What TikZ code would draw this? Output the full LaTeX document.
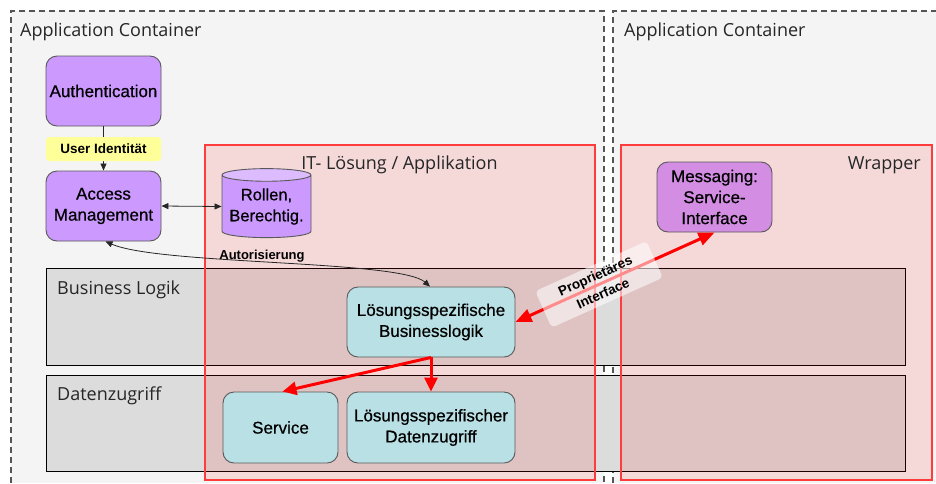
\documentclass[tikz,border=0pt]{standalone}
\usepackage{fontspec}
\setmainfont{Liberation Sans}
\newfontfamily\titlefont{Open Sans}
\newfontface\compfont{Liberation Sans}[FakeBold=0.6]
\usetikzlibrary{arrows.meta,shapes.geometric}

\definecolor{contbg}{HTML}{F4F4F4}
\definecolor{contline}{HTML}{555555}
\definecolor{lanefill}{HTML}{DCDCDC}
\definecolor{purplebox}{HTML}{CC99FF}
\definecolor{purpletop}{HTML}{DDBBFF}
\definecolor{msgbox}{HTML}{D38DE3}
\definecolor{tealbox}{HTML}{B9E0E4}
\definecolor{labelyellow}{HTML}{FFFF99}
\definecolor{zonered}{HTML}{FF3C3C}
\definecolor{titlegray}{HTML}{262626}

\tikzset{
  container/.style={draw=contline, line width=1.3pt, dash pattern=on 6pt off 4pt},
  lane/.style={draw=black, line width=0.8pt, fill=lanefill},
  zone/.style={draw=zonered, line width=1.2pt, fill=red, fill opacity=0.11},
  titletext/.style={font=\titlefont\fontsize{18}{21}\selectfont, text=titlegray, inner sep=0pt},
  comp/.style={draw=black!65, line width=0.9pt, rounded corners=11pt, align=center,
    font=\compfont\fontsize{17}{21}\selectfont, inner sep=2pt},
  purplecomp/.style={comp, fill=purplebox, minimum width=115pt, minimum height=70pt},
  tealcomp/.style={comp, fill=tealbox},
  smalllabel/.style={font=\bfseries\fontsize{13.5}{16}\selectfont, align=center},
  thinarrow/.style={draw=black!85, line width=0.8pt, -{Triangle[length=7pt,width=6pt]}},
  thinboth/.style={draw=black!85, line width=0.8pt, {Triangle[length=7pt,width=6pt]}-{Triangle[length=7pt,width=6pt]}},
  redarrow/.style={draw=red, line width=3pt, -{Triangle[length=14pt,width=13pt]}},
  redboth/.style={draw=red, line width=3pt, {Triangle[length=16pt,width=13pt]}-{Triangle[length=16pt,width=13pt]}}
}

\begin{document}
\begin{tikzpicture}[x=1pt, y=-1pt]
\useasboundingbox (0,0) rectangle (936,483);
\fill[white] (0,0) rectangle (936,483);

% application containers
\fill[contbg] (11,11) rectangle (604,483);
\draw[container] (11,483) -- (11,11) -- (604,11) -- (604,483);
\fill[contbg] (613,11) rectangle (936,483);
\draw[container] (613,483) -- (613,11) -- (936,11);

% layers
\draw[lane] (46,268) rectangle (905,365);
\draw[lane] (46,375) rectangle (905,471);

% solution zones
\draw[zone] (205,145) rectangle (595,480);
\draw[zone] (621,145) rectangle (932,480);

% captions
\node[titletext, anchor=base west] (t1) at (20,36) {Application Container};
\node[titletext, anchor=base west] (t2) at (624,36) {Application Container};
\node[titletext, anchor=base] (t3) at (399.5,169) {IT- Lösung / Applikation};
\node[titletext, anchor=base east] (t4) at (921,169) {Wrapper};
\node[titletext, anchor=base west] (t5) at (57,294) {Business Logik};
\node[titletext, anchor=base west] (t6) at (57,400) {Datenzugriff};

% components
\node[purplecomp] (auth) at (103.5,91) {Authentication};
\node[purplecomp] (access) at (103.5,206) {Access\\Management};
\node[cylinder, shape border rotate=90, aspect=0.17, draw=black!65, line width=0.9pt,
      cylinder uses custom fill, cylinder body fill=purplebox, cylinder end fill=purpletop,
      minimum height=69pt, minimum width=89pt, inner sep=0pt, align=center,
      font=\compfont\fontsize{16.5}{21}\selectfont] (rollen) at (266.5,206.5) {Rollen,\\Berechtig.};
\node[purplecomp, fill=msgbox] (msg) at (714.5,197) {Messaging:\\Service-\\Interface};
\node[tealcomp, minimum width=168pt, minimum height=70pt] (bl) at (431,322) {Lösungsspezifische\\Businesslogik};
\node[tealcomp, minimum width=115pt, minimum height=71pt] (service) at (280.5,427.5) {Service};
\node[tealcomp, minimum width=168pt, minimum height=71pt] (dz) at (431,427.5) {Lösungsspezifischer\\Datenzugriff};

% identity flow
\draw[thinarrow] (auth.south) -- (access.north);
\node[smalllabel, fill=labelyellow, rounded corners=3pt, minimum width=115pt, minimum height=24pt, inner sep=0pt] (uid) at (103.5,149) {User Identität};
\draw[thinboth] (access.east) -- (rollen.west);
\draw[thinboth] ([xshift=2pt]access.south) .. controls (160,265) and (400,260) .. ([xshift=-1pt]bl.north);
\node[smalllabel, font=\bfseries\fontsize{13}{16}\selectfont] (autor) at (262,256) {Autorisierung};

% data access calls
\draw[redarrow] (bl.south) -- ([xshift=2pt]service.north);
\draw[redarrow] (bl.south) -- (dz.north);

% proprietary interface
\draw[redboth] (bl.east) -- (msg.south)
  node[pos=0.42, sloped, smalllabel, font=\bfseries\fontsize{13.5}{19}\selectfont,
       fill=white, fill opacity=0.55, text opacity=1,
       rounded corners=4pt, minimum width=122pt, minimum height=40pt, inner sep=1pt] (pi) {Proprietäres\\Interface};
\end{tikzpicture}
\end{document}
